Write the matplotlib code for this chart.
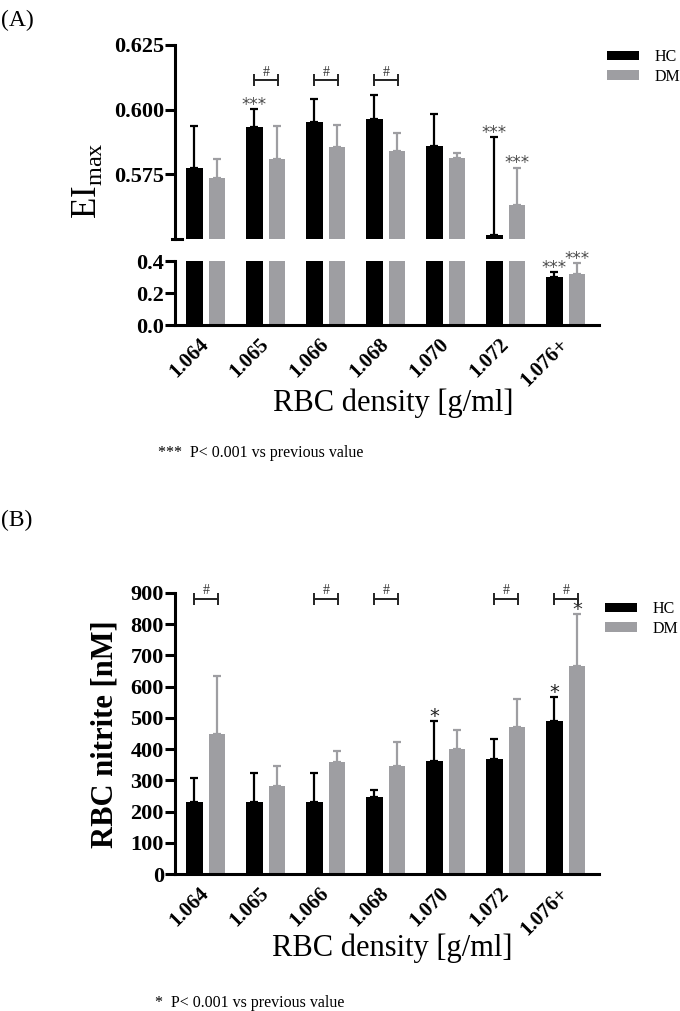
import numpy as np
import matplotlib.pyplot as plt
from matplotlib.transforms import blended_transform_factory

plt.rcParams['font.family'] = ['Liberation Serif', 'DejaVu Serif']

densities = ['1.064', '1.065', '1.066', '1.068', '1.070', '1.072', '1.076+']

# (A) EImax: bar value and top of error bar
ei_hc = [0.5773, 0.5932, 0.5951, 0.5964, 0.5859, 0.5515, 0.298]
ei_hc_top = [0.5938, 0.6003, 0.6043, 0.6058, 0.5983, 0.5893, 0.329]
ei_dm = [0.5737, 0.5810, 0.5855, 0.5842, 0.5813, 0.5633, 0.321]
ei_dm_top = [0.5810, 0.5935, 0.5941, 0.5910, 0.5833, 0.5776, 0.3875]
ei_star_hc = ['', '***', '', '', '', '***', '***']
ei_star_dm = ['', '', '', '', '', '***', '***']
ei_hash = [1, 2, 3]

# (B) RBC nitrite [nM]
no_hc = [231, 229, 231, 247, 363, 369, 489]
no_hc_top = [308, 324, 322, 268, 489, 433, 566]
no_dm = [449, 281, 358, 346, 401, 472, 667]
no_dm_top = [635, 345, 395, 424, 460, 562, 831]
no_star_hc = ['', '', '', '', '*', '', '*']
no_star_dm = ['', '', '', '', '', '', '*']
no_hash = [0, 2, 3, 5, 6]

BLACK = '#000000'
GREY = '#9e9ea2'
OFF = 0.19
W = 0.275
x = np.arange(len(densities))


def style(ax):
    for s in ['top', 'right']:
        ax.spines[s].set_visible(False)
    for s in ['left', 'bottom']:
        ax.spines[s].set_linewidth(2.2)
    ax.tick_params(axis='y', length=7, width=2.2, pad=1)
    ax.set_xlim(-0.5125, 6.554)


def bars(ax, hc, hc_top, dm, dm_top):
    out = []
    for off, v, t, col, lab in [(-OFF, hc, hc_top, BLACK, 'HC'), (OFF, dm, dm_top, GREY, 'DM')]:
        v = np.array(v)
        t = np.array(t)
        b = ax.bar(x + off, v, width=W, color=col, label=lab,
                   yerr=[np.zeros_like(v), t - v], capsize=3.2,
                   error_kw=dict(ecolor=col, elinewidth=1.6, capthick=1.6))
        out.append(b)
    return out


def stars(ax, tops, marks, off, size, color):
    # asterisks sit high in the em box, so anchor on the baseline
    for i in range(len(marks)):
        if marks[i]:
            ax.annotate(marks[i], (x[i] + off, tops[i]), xytext=(0, -0.6),
                        textcoords='offset points', ha='center', va='baseline',
                        fontsize=size, color=color, family='DejaVu Sans',
                        annotation_clip=False)


def hashes(ax, idx, y):
    for i in idx:
        ax.plot([x[i] - OFF, x[i] + OFF + 0.02], [y, y], color='#222222', lw=1.4,
                marker='|', ms=8, mew=1.4, clip_on=False)
        ax.annotate('#', (x[i], y), xytext=(0, 1), textcoords='offset points',
                    ha='center', va='bottom', fontsize=10, color='#333333',
                    annotation_clip=False)


fig = plt.figure(figsize=(6.8, 10.11), dpi=100)
L, Wd = 0.2574, 0.6235
ax1 = fig.add_axes([L, 0.7636, Wd, 0.1919])
ax2 = fig.add_axes([L, 0.6785, Wd, 0.0633])
ax3 = fig.add_axes([L, 0.1355, Wd, 0.2780])

# ---- panel A, upper part
hb = bars(ax1, ei_hc, ei_hc_top, ei_dm, ei_dm_top)
style(ax1)
ax1.set_ylim(0.55, 0.625)
ax1.spines['bottom'].set_visible(False)
ax1.set_xticks([])
ax1.set_yticks([0.575, 0.600, 0.625], ['0.575', '0.600', '0.625'],
               fontsize=16, fontweight='bold')
tr = blended_transform_factory(ax1.transAxes, ax1.transData)
ax1.plot([-0.008, 0.016], [0.55, 0.55], color='k', lw=2.2, transform=tr, clip_on=False)
stars(ax1, ei_hc_top, ei_star_hc, -OFF, 12, '#4a4a4a')
stars(ax1, ei_dm_top, ei_star_dm, OFF, 12, '#4a4a4a')
hashes(ax1, ei_hash, 0.6115)
ax1.legend(handles=hb, loc='upper left', bbox_to_anchor=(0.8926, 0.9515),
           bbox_transform=fig.transFigure, frameon=False, fontsize=11.5,
           borderpad=0, borderaxespad=0, handlelength=2.0, handleheight=0.55,
           handletextpad=1.0, labelspacing=0.22)

# ---- panel A, lower part
bars(ax2, ei_hc, ei_hc_top, ei_dm, ei_dm_top)
style(ax2)
ax2.set_ylim(0, 0.4)
ax2.set_yticks([0.0, 0.2, 0.4], ['0.0', '0.2', '0.4'], fontsize=16, fontweight='bold')
ax2.set_xticks(x, densities, fontsize=15, fontweight='bold', rotation=45,
               ha='right', va='center', rotation_mode='anchor')
ax2.tick_params(axis='x', length=0, pad=12)
stars(ax2, ei_hc_top, ['', '', '', '', '', '', ei_star_hc[6]], -OFF, 12, '#4a4a4a')
stars(ax2, ei_dm_top, ['', '', '', '', '', '', ei_star_dm[6]], OFF, 12, '#4a4a4a')

fig.text(0.128, 1 - 181 / 1011, r'EI$_\mathregular{max}$', rotation=90,
         ha='center', va='center', fontsize=25)
fig.text(0.579, 1 - 403 / 1011, 'RBC density [g/ml]', ha='center', va='center', fontsize=22)
fig.text(0.232, 1 - 453 / 1011, '***  P< 0.001 vs previous value', ha='left',
         va='center', fontsize=11.5)
fig.text(0.002, 1 - 20 / 1011, '(A)', ha='left', va='center', fontsize=17)

# ---- panel B
hb = bars(ax3, no_hc, no_hc_top, no_dm, no_dm_top)
style(ax3)
ax3.set_ylim(0, 900)
ax3.set_yticks(np.arange(0, 901, 100), [str(v) for v in range(0, 901, 100)],
               fontsize=16, fontweight='bold')
ax3.set_xticks(x, densities, fontsize=15, fontweight='bold', rotation=45,
               ha='right', va='center', rotation_mode='anchor')
ax3.tick_params(axis='x', length=0, pad=12)
stars(ax3, no_hc_top, no_star_hc, -OFF, 14, '#222222')
stars(ax3, no_dm_top, no_star_dm, OFF, 14, '#333333')
hashes(ax3, no_hash, 882)
ax3.legend(handles=hb, loc='upper left', bbox_to_anchor=(0.8897, 0.4055),
           bbox_transform=fig.transFigure, frameon=False, fontsize=11.5,
           borderpad=0, borderaxespad=0, handlelength=2.0, handleheight=0.55,
           handletextpad=1.0, labelspacing=0.22)

fig.text(0.155, 1 - 734 / 1011, 'RBC nitrite [nM]', rotation=90, ha='center',
         va='center', fontsize=22, fontweight='bold')
fig.text(0.577, 1 - 948 / 1011, 'RBC density [g/ml]', ha='center', va='center', fontsize=22)
fig.text(0.228, 1 - 1003 / 1011, '*  P< 0.001 vs previous value', ha='left',
         va='center', fontsize=11.5)
fig.text(0.002, 1 - 520 / 1011, '(B)', ha='left', va='center', fontsize=17)

fig.savefig('out.png', dpi=100)
